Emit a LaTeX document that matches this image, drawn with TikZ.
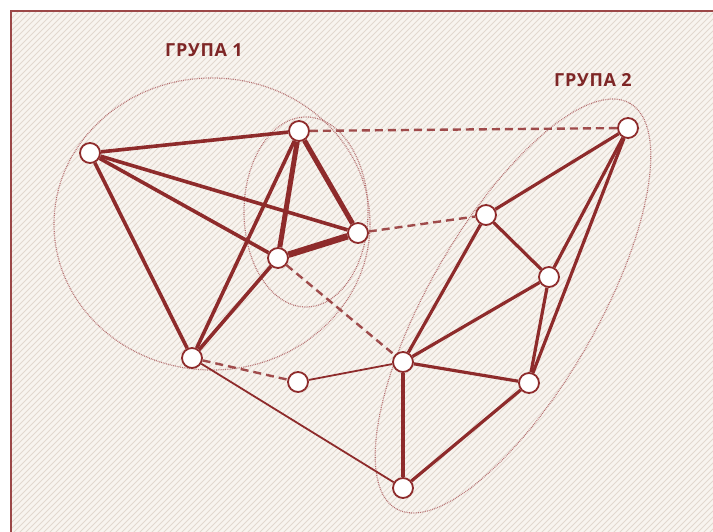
\documentclass[tikz,border=0pt]{standalone}
\usepackage{fontspec}
\newfontfamily\labfont{Open Sans}[LetterSpace=4]
\definecolor{edge}{HTML}{8E2B2B}
\definecolor{frame}{HTML}{9C4848}
\definecolor{ring}{HTML}{B57070}
\definecolor{paper}{HTML}{F8F4EF}
\definecolor{hatch}{HTML}{E2D8CF}
\definecolor{title}{HTML}{7E2626}
\tikzset{
  vert/.style={circle,draw=edge,line width=1.8pt,fill=white,minimum size=20pt,inner sep=0pt},
  thk/.style={draw=edge,line width=3.6pt},
  thkr/.style={draw=edge,line width=5pt},
  thkrr/.style={draw=edge,line width=6.5pt},
  grp/.style={draw=edge,line width=3.2pt},
  thn/.style={draw=edge,line width=1.8pt},
  dsh/.style={draw=edge!85!white,line width=2.4pt,dash pattern=on 8pt off 5pt},
  ringline/.style={draw=ring,line width=1.2pt,dash pattern=on 0.8pt off 1pt},
  grouplabel/.style={text=title,font=\labfont\bfseries\fontsize{18}{21}\selectfont}
}
\begin{document}
\begin{tikzpicture}[x=1pt,y=-1pt]
\useasboundingbox (0,0) rectangle (713,532);
\fill[white] (0,0) rectangle (713,532);
% background with hatch
\begin{scope}
  \clip (11,11) rectangle (713,532);
  \fill[paper] (11,11) rectangle (713,532);
  \foreach \x in {-540,-534,...,720} {
    \draw[hatch,line width=1pt] (\x,540) -- ({\x+550},-10);
  }
\end{scope}
\draw[frame,line width=2pt] (720,11) -- (11,11) -- (11,540);
% group rings
\draw[ringline] (212,224) ellipse [x radius=158, y radius=146];
\draw[ringline] (306,212) ellipse [x radius=62, y radius=95];
\draw[ringline] (513,306) ellipse [x radius=234, y radius=84, rotate=60];
% labels
\node[grouplabel] (g1) at (204,50) {ГРУПА 1};
\node[grouplabel] (g2) at (593,80) {ГРУПА 2};
% vertices
\node[vert] (A) at (90,153) {};
\node[vert] (B) at (299,131) {};
\node[vert] (C) at (358,233) {};
\node[vert] (D) at (278,258) {};
\node[vert] (E) at (192,358) {};
\node[vert] (F) at (298,382) {};
\node[vert] (G) at (628,128) {};
\node[vert] (H) at (486,215) {};
\node[vert] (I) at (549,277) {};
\node[vert] (J) at (403,362) {};
\node[vert] (K) at (529,383) {};
\node[vert] (L) at (403,488) {};
% group 1 edges
\draw[thk] (A) -- (B);
\draw[thk] (A) -- (C);
\draw[thk] (A) -- (D);
\draw[thk] (A) -- (E);
\draw[thk] (B) -- (E);
\draw[thk] (D) -- (E);
\draw[thkr] (B) -- (C);
\draw[thkr] (B) -- (D);
\draw[thkrr] (D) -- (C);
% group 2 edges
\draw[grp] (G) -- (H);
\draw[grp] (G) -- (I);
\draw[grp] (G) -- (K);
\draw[grp] (H) -- (I);
\draw[grp] (H) -- (J);
\draw[grp] (I) -- (J);
\draw[grp] (I) -- (K);
\draw[grp] (J) -- (K);
\draw[grp] (J) -- (L);
\draw[grp] (K) -- (L);
% cross links
\draw[dsh] (B) -- (G);
\draw[dsh] (C) -- (H);
\draw[dsh] (D) -- (J);
\draw[dsh] (E) -- (F);
\draw[thn] (F) -- (J);
\draw[thn] (E) -- (L);
\end{tikzpicture}
\end{document}
